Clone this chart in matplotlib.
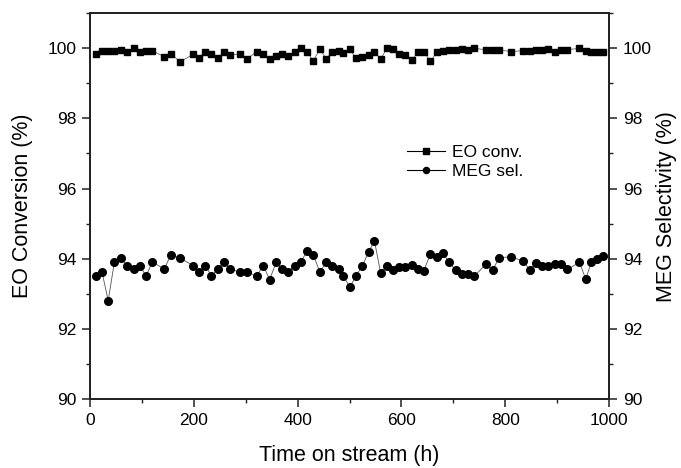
import matplotlib
matplotlib.use("Agg")
import matplotlib.pyplot as plt
from matplotlib.ticker import MultipleLocator

plt.rcParams['font.family'] = ['Liberation Sans', 'DejaVu Sans']

time_h = [12, 23, 35, 47, 59, 72, 84, 96, 108, 120, 143, 156, 174, 199, 210, 222,
          234, 246, 258, 270, 289, 303, 321, 334, 346, 359, 370, 382, 395, 406, 418,
          430, 443, 455, 467, 479, 488, 501, 512, 525, 537, 548, 560, 572, 584, 596,
          607, 620, 631, 643, 656, 668, 680, 692, 705, 716, 728, 740, 763, 776, 788,
          812, 835, 848, 859, 871, 882, 895, 907, 920, 943, 955, 966, 977, 989]

eo_conv = [99.83, 99.93, 99.93, 99.93, 99.95, 99.88, 100.0, 99.90, 99.92, 99.92,
           99.76, 99.83, 99.61, 99.83, 99.73, 99.90, 99.83, 99.71, 99.90, 99.81,
           99.83, 99.70, 99.90, 99.83, 99.70, 99.78, 99.83, 99.78, 99.90, 100.0,
           99.90, 99.64, 99.97, 99.70, 99.90, 99.93,
           99.86, 99.97, 99.71, 99.76, 99.81, 99.90, 99.69, 100.0, 99.97, 99.84,
           99.81, 99.65, 99.88, 99.90, 99.62, 99.88, 99.93, 99.95, 99.95, 99.97,
           99.95, 100.0, 99.95, 99.95, 99.95, 99.90, 99.93, 99.93, 99.95, 99.95,
           99.97, 99.90, 99.95, 99.95, 100.0, 99.93, 99.90, 99.90, 99.90]

meg_sel = [93.52, 93.63, 92.81, 93.91, 94.01, 93.81, 93.70, 93.81, 93.51, 93.91,
           93.71, 94.12, 94.01, 93.81, 93.62, 93.81, 93.51, 93.71, 93.91, 93.71,
           93.62, 93.62, 93.51, 93.81, 93.41, 93.91, 93.71, 93.62, 93.81, 93.91,
           94.21, 94.12, 93.62, 93.91, 93.81, 93.71,
           93.50, 93.20, 93.50, 93.81, 94.20, 94.51, 93.60, 93.81, 93.67, 93.76,
           93.78, 93.83, 93.70, 93.66, 94.14, 94.05, 94.17, 93.90, 93.67, 93.57,
           93.58, 93.50, 93.85, 93.68, 94.03, 94.06, 93.93, 93.67, 93.89, 93.79,
           93.81, 93.85, 93.85, 93.70, 93.90, 93.43, 93.90, 94.00, 94.08]

fig = plt.figure(figsize=(6.81, 4.68), dpi=100)
ax = fig.add_axes([0.1322, 0.1468, 0.7621, 0.8254])

l1, = ax.plot(time_h, eo_conv, color='#666666', lw=0.6, marker='s', ms=5.0,
              mfc='black', mec='black', label='EO conv.')
l2, = ax.plot(time_h, meg_sel, color='#555555', lw=0.6, marker='o', ms=5.5,
              mfc='black', mec='black', label='MEG sel.')

ax.set_xlim(0, 1000)
ax.set_ylim(90, 101)
ax.xaxis.set_major_locator(MultipleLocator(200))
ax.xaxis.set_minor_locator(MultipleLocator(100))
ax.yaxis.set_major_locator(MultipleLocator(2))
ax.yaxis.set_minor_locator(MultipleLocator(1))

ax2 = ax.twinx()
ax2.set_ylim(90, 101)
ax2.yaxis.set_major_locator(MultipleLocator(2))
ax2.yaxis.set_minor_locator(MultipleLocator(1))

for a in (ax, ax2):
    for s in a.spines.values():
        s.set_linewidth(1.3)
        s.set_color('#222222')
    a.tick_params(which='major', direction='out', length=6, width=1.1,
                  labelsize=12.5, color='#222222', pad=4)
    a.tick_params(which='minor', direction='out', length=3, width=1.0,
                  color='#222222')
ax.tick_params(axis='x', top=False, which='both')

ax.set_xlabel('Time on stream (h)', fontsize=15.5, labelpad=12)
ax.set_ylabel('EO Conversion (%)', fontsize=15.5, labelpad=10)
ax2.set_ylabel('MEG Selectivity (%)', fontsize=15.5, labelpad=3)

leg = ax.legend(handles=[l1, l2], loc='upper left', bbox_to_anchor=(0.58, 0.70),
                frameon=False, fontsize=12.5, handlelength=2.2, handletextpad=0.4,
                labelspacing=0.25, markerscale=0.8)
for h in leg.get_lines():
    h.set_color('black')
    h.set_linewidth(0.8)

fig.savefig('out.png', dpi=100)
